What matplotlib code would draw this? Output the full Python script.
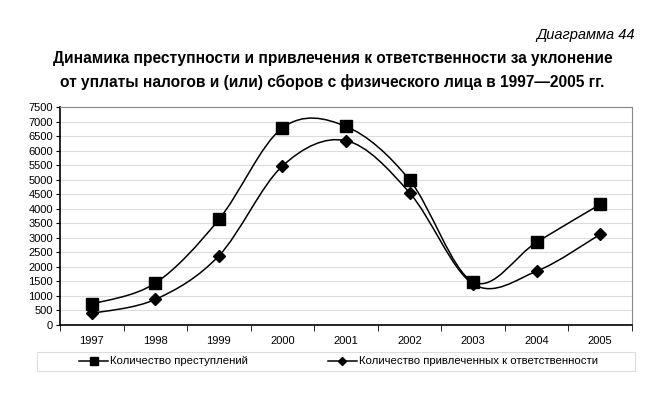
import matplotlib.pyplot as plt
from matplotlib.path import Path
from matplotlib.patches import PathPatch, Rectangle
from matplotlib.lines import Line2D

plt.rcParams['font.family'] = ['Liberation Sans', 'DejaVu Sans']

years = ["1997", "1998", "1999", "2000", "2001", "2002", "2003", "2004", "2005"]
crimes = [720, 1440, 3630, 6780, 6830, 4990, 1480, 2850, 4150]
charged = [400, 880, 2380, 5470, 6340, 4550, 1410, 1850, 3120]

label_crimes = "Количество преступлений"
label_charged = "Количество привлеченных к ответственности"


def smooth_path(xs, ys):
    # excel-like smoothed line: bezier segments with catmull-rom control points
    n = len(xs)
    verts = [(xs[0], ys[0])]
    codes = [Path.MOVETO]
    for i in range(n - 1):
        x0, y0 = (xs[i - 1], ys[i - 1]) if i > 0 else (xs[i], ys[i])
        x1, y1 = xs[i], ys[i]
        x2, y2 = xs[i + 1], ys[i + 1]
        x3, y3 = (xs[i + 2], ys[i + 2]) if i + 2 < n else (x2, y2)
        c1 = (x1 + (x2 - x0) / 6, y1 + (y2 - y0) / 6)
        c2 = (x2 - (x3 - x1) / 6, y2 - (y3 - y1) / 6)
        verts += [c1, c2, (x2, y2)]
        codes += [Path.CURVE4] * 3
    return Path(verts, codes)


fig = plt.figure(figsize=(6.65, 3.99), dpi=100)
ax = fig.add_axes([0.0902, 0.1855, 0.8602, 0.5464])

xs = list(range(len(years)))
for vals, marker, ms in [(crimes, 's', 8.5), (charged, 'D', 6.5)]:
    ax.add_patch(PathPatch(smooth_path(xs, vals), fill=False, edgecolor='black', lw=1.1, zorder=3))
    ax.plot(xs, vals, linestyle='none', marker=marker, markersize=ms, color='black', zorder=4)

ax.set_xlim(-0.5, len(years) - 0.5)
ax.set_ylim(0, 7500)
ax.set_yticks(range(0, 7501, 500))
ax.tick_params(axis='y', labelsize=8, length=3, pad=2)
ax.set_xticks(xs)
ax.set_xticklabels(years)
ax.tick_params(axis='x', labelsize=8, length=0, pad=8)
ax.set_xticks([x + 0.5 for x in [-1] + xs], minor=True)
ax.tick_params(axis='x', which='minor', length=4, direction='out')
ax.grid(axis='y', color='#dddddd', lw=0.8)
ax.set_axisbelow(True)
for side in ['top', 'right']:
    ax.spines[side].set_color('#888888')
for side in ['left', 'bottom']:
    ax.spines[side].set_color('black')
    ax.spines[side].set_linewidth(1.2)

# legend frame spans wider than the entries
fig.patches.append(Rectangle((37 / 665, 1 - 371 / 399), 598 / 665, 19 / 399,
                             transform=fig.transFigure, fill=False,
                             edgecolor='#dddddd', lw=0.8))
handles = [
    Line2D([], [], color='black', marker='s', markersize=5.5, lw=1.1),
    Line2D([], [], color='black', marker='D', markersize=4.5, lw=1.1),
]
fig.legend(handles, [label_crimes, label_charged], loc='center',
           bbox_to_anchor=(0.509, 0.094), ncol=2, fontsize=8.2, frameon=False,
           columnspacing=7, handlelength=2.55, handletextpad=0.15)

fig.text(0.955, 0.912, "Диаграмма 44", ha='right', va='center', fontsize=10.5, style='italic')
fig.text(0.5, 0.823, "Динамика преступности и привлечения к ответственности за уклонение\n"
         "от уплаты налогов и (или) сборов с физического лица в 1997—2005 гг.",
         ha='center', va='center', fontsize=11.2, fontweight='bold', linespacing=1.6)

fig.savefig('out.png', dpi=100)
